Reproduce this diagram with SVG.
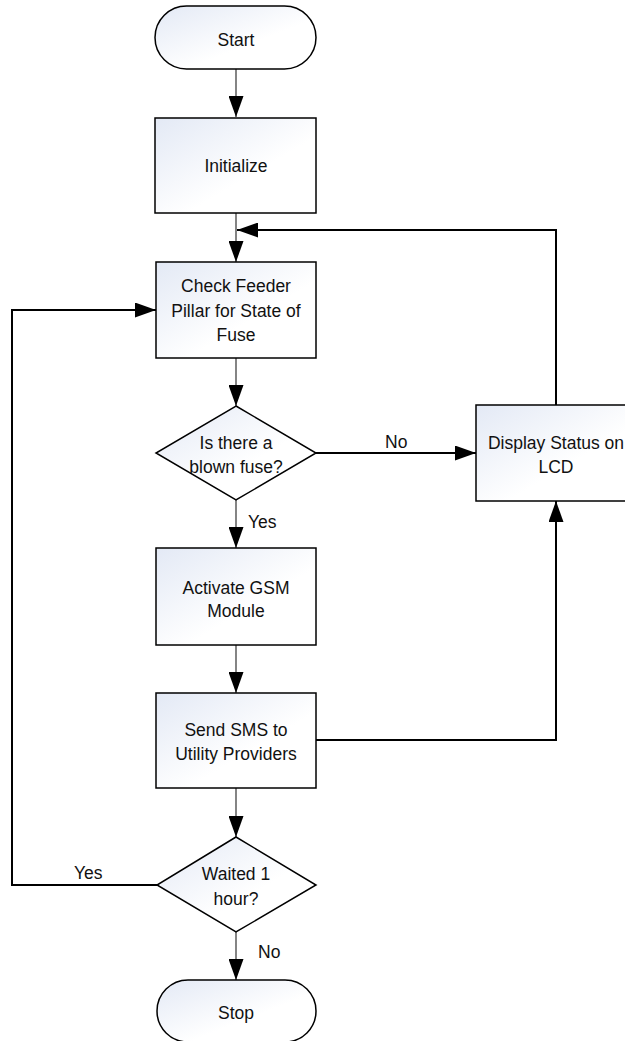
<svg xmlns="http://www.w3.org/2000/svg" width="625" height="1041" viewBox="0 0 625 1041">
<style>
.shape{fill:url(#g);stroke:#000;stroke-width:1.5}
.t{font-family:"Liberation Sans",Arial,sans-serif;font-size:17.5px;fill:#111;text-anchor:middle}
.lbl{font-family:"Liberation Sans",Arial,sans-serif;font-size:17.5px;fill:#111}
.v{fill:none;stroke:#333;stroke-width:1.2}
.h{fill:none;stroke:#000;stroke-width:2}
</style>
<defs>
<linearGradient id="g" x1="0" y1="0" x2="1" y2="1">
<stop offset="0" stop-color="#e3e9f5"/>
<stop offset="0.6" stop-color="#ffffff"/>
</linearGradient>
<marker id="a" markerUnits="userSpaceOnUse" markerWidth="21" markerHeight="15" refX="21" refY="7.5" orient="auto">
<path d="M0,0 L21,7.5 L0,15 z" fill="#000"/>
</marker>
</defs>
<g id="connectors">
<line class="v" x1="236" y1="69" x2="236" y2="117" marker-end="url(#a)"/>
<line class="v" x1="236" y1="213" x2="236" y2="262" marker-end="url(#a)"/>
<polyline class="h" points="556,405 556,230 237,230" marker-end="url(#a)"/>
<line class="v" x1="236" y1="358" x2="236" y2="406" marker-end="url(#a)"/>
<line class="h" x1="316" y1="453" x2="476" y2="453" marker-end="url(#a)"/>
<line class="v" x1="236" y1="500" x2="236" y2="548" marker-end="url(#a)"/>
<line class="v" x1="236" y1="645" x2="236" y2="693" marker-end="url(#a)"/>
<polyline class="h" points="316,740 556,740 556,501" marker-end="url(#a)"/>
<line class="v" x1="236" y1="788" x2="236" y2="837" marker-end="url(#a)"/>
<polyline class="h" points="157,885 12,885 12,310 156,310" marker-end="url(#a)"/>
<line class="v" x1="236" y1="932" x2="236" y2="980" marker-end="url(#a)"/>
<text class="lbl" x="385" y="448">No</text>
<text class="lbl" x="248" y="528">Yes</text>
<text class="lbl" x="74" y="879">Yes</text>
<text class="lbl" x="258" y="958">No</text>
</g>
<g id="start">
<rect class="shape" x="155" y="6" width="161" height="63" rx="31.5" ry="31.5"/>
<text class="t" x="236" y="46">Start</text>
</g>
<g id="initialize">
<rect class="shape" x="155" y="118" width="161" height="95"/>
<text class="t" x="236" y="172">Initialize</text>
</g>
<g id="check">
<rect class="shape" x="156" y="262" width="160" height="96"/>
<text class="t" x="236" y="292">Check Feeder</text>
<text class="t" x="236" y="317">Pillar for State of</text>
<text class="t" x="236" y="341">Fuse</text>
</g>
<g id="blown">
<polygon class="shape" points="236,406 316,453 236,500 156,453"/>
<text class="t" x="236" y="449">Is there a</text>
<text class="t" x="236" y="473">blown fuse?</text>
</g>
<g id="display">
<rect class="shape" x="476" y="405" width="160" height="96"/>
<text class="t" x="556" y="449">Display Status on</text>
<text class="t" x="556" y="473">LCD</text>
</g>
<g id="activate">
<rect class="shape" x="156" y="548" width="160" height="97"/>
<text class="t" x="236" y="594">Activate GSM</text>
<text class="t" x="236" y="617">Module</text>
</g>
<g id="sms">
<rect class="shape" x="156" y="693" width="160" height="95"/>
<text class="t" x="236" y="736">Send SMS to</text>
<text class="t" x="236" y="760">Utility Providers</text>
</g>
<g id="waited">
<polygon class="shape" points="236,837 316,885 236,932 157,885"/>
<text class="t" x="236" y="880">Waited 1</text>
<text class="t" x="236" y="905">hour?</text>
</g>
<g id="stop">
<rect class="shape" x="157" y="980" width="159" height="62" rx="31" ry="31"/>
<text class="t" x="236" y="1019">Stop</text>
</g>
</svg>
